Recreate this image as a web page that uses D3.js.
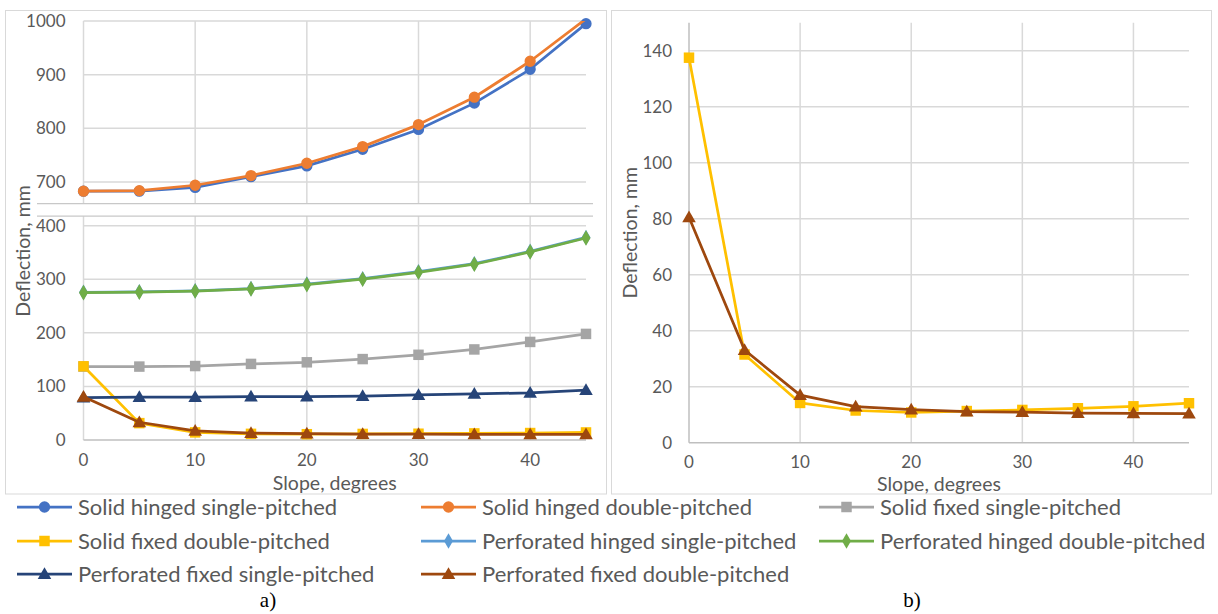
<!DOCTYPE html>
<html>
<head>
<meta charset="utf-8">
<script src="https://cdn.jsdelivr.net/npm/d3@7"></script>
<style>
  html, body { margin: 0; padding: 0; background: #fff; }
  svg { display: block; }
  text { font-family: Lato, "Open Sans", sans-serif; }
</style>
</head>
<body>
<svg id="chart" width="1218" height="614"></svg>
<script>
// ---------------- DATA ----------------
const slope = [0, 5, 10, 15, 20, 25, 30, 35, 40, 45];
const xTicks = [0, 10, 20, 30, 40];
const topTicks = [700, 800, 900, 1000];
const bottomTicks = [0, 100, 200, 300, 400];
const rightTicks = [0, 20, 40, 60, 80, 100, 120, 140];

const solidHingedSingle   = [683, 683, 690, 710, 730, 761, 798, 847, 910, 995];
const solidHingedDouble   = [683, 684, 694, 712, 735, 766, 807, 858, 925, 1004];
const solidFixedSingle    = [137, 137, 138, 142, 145, 151, 159, 169, 183, 198];
const solidFixedDouble    = [137.5, 31.5, 14.2, 11.5, 10.8, 11.3, 11.7, 12.3, 13.0, 14.1];
const perfHingedSingle    = [275.5, 276.5, 278.5, 282.5, 291, 301, 314, 329, 352, 378];
const perfHingedDouble    = [275, 276, 278, 282, 290, 300, 313, 328, 351, 377];
const perfFixedSingle     = [79, 80, 80, 81, 81, 82, 84, 86, 88, 93];
const perfFixedDouble     = [80.5, 33.1, 17.0, 12.9, 11.8, 11.1, 10.9, 10.6, 10.5, 10.4];

const seriesNames = [
  "Solid hinged single-pitched", "Solid hinged double-pitched", "Solid fixed single-pitched",
  "Solid fixed double-pitched", "Perforated hinged single-pitched", "Perforated hinged double-pitched",
  "Perforated fixed single-pitched", "Perforated fixed double-pitched"
];
const seriesValues = [solidHingedSingle, solidHingedDouble, solidFixedSingle, solidFixedDouble,
  perfHingedSingle, perfHingedDouble, perfFixedSingle, perfFixedDouble];
const seriesColors = ["#4472C4", "#ED7D31", "#A5A5A5", "#FFC000", "#5B9BD5", "#70AD47", "#264478", "#9E480E"];
const seriesMarkers = ["circle", "circle", "square", "square", "diamond", "diamond", "triangle", "triangle"];
const rightSeries = [3, 7];

const series = seriesNames.map((name, i) => ({
  name, color: seriesColors[i], marker: seriesMarkers[i],
  points: slope.map((s, j) => ({ x: s, y: seriesValues[i][j] }))
}));

// ---------------- STYLE ----------------
const gridColor = "#D9D9D9";
const axisColor = "#BFBFBF";
const textColor = "#595959";
const lineW = 2.75;
const tickFont = 17;
const titleFont = 19.5;

const svg = d3.select("#chart");
const defs = svg.append("defs");

function symbolPath(kind) {
  const t = { circle: d3.symbolCircle, square: d3.symbolSquare, diamond: d3.symbolDiamond, triangle: d3.symbolTriangle }[kind];
  const size = { circle: 100, square: 110, diamond: 70, triangle: 80 }[kind];
  return d3.symbol().type(t).size(size)();
}

function drawSeries(g, s, x, y, domain, clipId) {
  const line = d3.line().x(d => x(d.x)).y(d => y(d.y));
  g.append("path").datum(s.points)
    .attr("clip-path", `url(#${clipId})`)
    .attr("d", line).attr("fill", "none")
    .attr("stroke", s.color).attr("stroke-width", lineW).attr("stroke-linejoin", "round");
  g.selectAll(null).data(s.points.filter(d => d.y >= domain[0] && d.y <= domain[1]))
    .join("path")
    .attr("transform", d => `translate(${x(d.x)},${y(d.y)})${s.marker === "triangle" ? " translate(0,1)" : ""}`)
    .attr("d", symbolPath(s.marker)).attr("fill", s.color);
}

// ---------------- LEFT CHART (a) ----------------
const L = svg.append("g");
L.append("rect").attr("x", 5.5).attr("y", 10.5).attr("width", 601).attr("height", 483.5)
  .attr("fill", "none").attr("stroke", gridColor).attr("stroke-width", 1);

const xL = d3.scaleLinear().domain([0, 45]).range([83.5, 586]);
const yTop = d3.scaleLinear().domain([660, 1000]).range([203.5, 21]);
const yBot = d3.scaleLinear().domain([0, 418]).range([440, 216]);

defs.append("clipPath").attr("id", "clipTop").append("rect")
  .attr("x", xL.range()[0] - 10).attr("y", yTop(1000)).attr("width", xL.range()[1] - xL.range()[0] + 20)
  .attr("height", yTop(660) - yTop(1000));
defs.append("clipPath").attr("id", "clipBot").append("rect")
  .attr("x", xL.range()[0] - 10).attr("y", yBot(418)).attr("width", xL.range()[1] - xL.range()[0] + 20)
  .attr("height", yBot(0) - yBot(418) + 10);

// top panel grid
L.append("g").selectAll("line").data(topTicks).join("line")
  .attr("x1", xL(0)).attr("x2", xL(45)).attr("y1", d => yTop(d)).attr("y2", d => yTop(d))
  .attr("stroke", gridColor).attr("stroke-width", 1.5);
L.append("g").selectAll("line").data(xTicks).join("line")
  .attr("x1", d => xL(d)).attr("x2", d => xL(d)).attr("y1", yTop(1000)).attr("y2", yTop(660))
  .attr("stroke", gridColor).attr("stroke-width", 1.5);
// bottom panel grid
L.append("g").selectAll("line").data(bottomTicks.slice(1)).join("line")
  .attr("x1", xL(0)).attr("x2", xL(45)).attr("y1", d => yBot(d)).attr("y2", d => yBot(d))
  .attr("stroke", gridColor).attr("stroke-width", 1.5);
L.append("g").selectAll("line").data(xTicks).join("line")
  .attr("x1", d => xL(d)).attr("x2", d => xL(d)).attr("y1", yBot(418)).attr("y2", yBot(0))
  .attr("stroke", gridColor).attr("stroke-width", 1.5);
L.append("line").attr("x1", xL(0)).attr("x2", xL(45)).attr("y1", yBot(0)).attr("y2", yBot(0))
  .attr("stroke", axisColor).attr("stroke-width", 1.5);
// break separators
[yTop(660), yBot(418)].forEach(yy => {
  L.append("line").attr("x1", 37).attr("x2", 593).attr("y1", yy).attr("y2", yy)
    .attr("stroke", "#C8C8C8").attr("stroke-width", 1.25);
});

// tick labels
L.append("g").selectAll("text").data(topTicks).join("text")
  .attr("x", xL(0) - 18).attr("y", d => yTop(d)).attr("dy", "0.35em")
  .attr("text-anchor", "end").attr("fill", textColor).attr("font-size", tickFont).text(d => d);
L.append("g").selectAll("text").data(bottomTicks).join("text")
  .attr("x", xL(0) - 18).attr("y", d => yBot(d)).attr("dy", "0.35em")
  .attr("text-anchor", "end").attr("fill", textColor).attr("font-size", tickFont).text(d => d);
L.append("g").selectAll("text").data(xTicks).join("text")
  .attr("x", d => xL(d)).attr("y", 460).attr("dy", "0.35em")
  .attr("text-anchor", "middle").attr("fill", textColor).attr("font-size", tickFont).text(d => d);
L.append("text").attr("x", (xL(0) + xL(45)) / 2).attr("y", 490)
  .attr("text-anchor", "middle").attr("fill", textColor).attr("font-size", titleFont).text("Slope, degrees");
L.append("text").attr("transform", "translate(30,251) rotate(-90)")
  .attr("text-anchor", "middle").attr("fill", textColor).attr("font-size", titleFont).text("Deflection, mm");

// series (top panel then bottom panel)
series.forEach(s => drawSeries(L.append("g"), s, xL, yTop, [660, 1000], "clipTop"));
series.forEach(s => drawSeries(L.append("g"), s, xL, yBot, [0, 418], "clipBot"));

// ---------------- RIGHT CHART (b) ----------------
const R = svg.append("g");
R.append("rect").attr("x", 611.5).attr("y", 10.5).attr("width", 600).attr("height", 483.5)
  .attr("fill", "none").attr("stroke", gridColor).attr("stroke-width", 1);

const xR = d3.scaleLinear().domain([0, 45]).range([689, 1189]);
const yR = d3.scaleLinear().domain([0, 150]).range([442.7, 22.7]);
defs.append("clipPath").attr("id", "clipR").append("rect")
  .attr("x", xR(0) - 10).attr("y", yR(150)).attr("width", xR(45) - xR(0) + 20).attr("height", yR(0) - yR(150) + 10);

R.append("g").selectAll("line").data(rightTicks.slice(1)).join("line")
  .attr("x1", xR(0)).attr("x2", xR(45)).attr("y1", d => yR(d)).attr("y2", d => yR(d))
  .attr("stroke", gridColor).attr("stroke-width", 1.5);
R.append("g").selectAll("line").data(xTicks.slice(1)).join("line")
  .attr("x1", d => xR(d)).attr("x2", d => xR(d)).attr("y1", yR(150)).attr("y2", yR(0))
  .attr("stroke", gridColor).attr("stroke-width", 1.5);
R.append("line").attr("x1", xR(0)).attr("x2", xR(45)).attr("y1", yR(0)).attr("y2", yR(0))
  .attr("stroke", axisColor).attr("stroke-width", 1.5);
R.append("line").attr("x1", xR(0)).attr("x2", xR(0)).attr("y1", yR(150)).attr("y2", yR(0))
  .attr("stroke", axisColor).attr("stroke-width", 1.5);

R.append("g").selectAll("text").data(rightTicks).join("text")
  .attr("x", xR(0) - 17).attr("y", d => yR(d)).attr("dy", "0.35em")
  .attr("text-anchor", "end").attr("fill", textColor).attr("font-size", tickFont).text(d => d);
R.append("g").selectAll("text").data(xTicks).join("text")
  .attr("x", d => xR(d)).attr("y", 462).attr("dy", "0.35em")
  .attr("text-anchor", "middle").attr("fill", textColor).attr("font-size", tickFont).text(d => d);
R.append("text").attr("x", (xR(0) + xR(45)) / 2).attr("y", 491)
  .attr("text-anchor", "middle").attr("fill", textColor).attr("font-size", titleFont).text("Slope, degrees");
R.append("text").attr("transform", `translate(637,${(yR(0) + yR(150)) / 2}) rotate(-90)`)
  .attr("text-anchor", "middle").attr("fill", textColor).attr("font-size", titleFont).text("Deflection, mm");

rightSeries.forEach(i => drawSeries(R.append("g"), series[i], xR, yR, [0, 150], "clipR"));

// ---------------- LEGEND ----------------
const legCols = [17, 421, 819];
const legRows = [507, 541, 574];
const leg = svg.append("g");
series.forEach((s, i) => {
  const cx = legCols[i % 3], cy = legRows[Math.floor(i / 3)];
  const g = leg.append("g").attr("transform", `translate(${cx},${cy})`);
  g.append("line").attr("x1", 0).attr("x2", 55).attr("y1", 0).attr("y2", 0)
    .attr("stroke", s.color).attr("stroke-width", lineW);
  g.append("path").attr("transform", `translate(27.5,${s.marker === "triangle" ? 1 : 0})`)
    .attr("d", symbolPath(s.marker)).attr("fill", s.color);
  g.append("text").attr("x", 61).attr("y", 0).attr("dy", "0.35em")
    .attr("fill", textColor).attr("font-size", 22).text(s.name);
});

// ---------------- CAPTIONS ----------------
svg.append("text").attr("x", 268).attr("y", 607).attr("text-anchor", "middle")
  .style("font-family", "'Liberation Serif', 'Times New Roman', serif").attr("font-size", 21).attr("fill", "#000").text("a)");
svg.append("text").attr("x", 912).attr("y", 607).attr("text-anchor", "middle")
  .style("font-family", "'Liberation Serif', 'Times New Roman', serif").attr("font-size", 21).attr("fill", "#000").text("b)");
</script>
</body>
</html>
